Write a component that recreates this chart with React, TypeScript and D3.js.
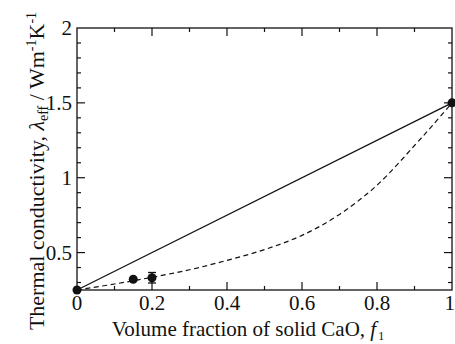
import React from "react";
import * as d3 from "d3";

// Measured points: volume fraction of solid CaO vs effective thermal conductivity
const measF = [0, 0.15, 0.2, 1];
const measLambda = [0.25, 0.322, 0.332, 1.5];
const measErr = [0, 0, 0.035, 0];

// Parallel (upper bound) model
const parallelF = [0, 1];
const parallelLambda = [0.25, 1.5];

// Lower model curve
const modelF = [0, 0.1, 0.2, 0.3, 0.4, 0.5, 0.6, 0.7, 0.8, 0.9, 0.95, 1];
const modelLambda = [0.25, 0.29, 0.335, 0.385, 0.448, 0.52, 0.615, 0.755, 0.95, 1.215, 1.355, 1.5];

const xTickLabels = [0, 0.2, 0.4, 0.6, 0.8, 1];
const yTickLabels = [0.5, 1, 1.5, 2];

const W = 455;
const H = 344;
const M = { left: 77, right: 452, top: 28, bottom: 290 };
const FONT = "'Liberation Serif', 'Times New Roman', serif";
const INK = "#111";

export default function App() {
  const x = d3.scaleLinear().domain([0, 1]).range([M.left, M.right]);
  const y = d3.scaleLinear().domain([0.25, 2]).range([M.bottom, M.top]);

  const xMinor = d3.range(1, 10).map((i) => i / 10);
  const yMinor = d3.range(3, 20).map((i) => i / 10);

  const line = d3
    .line<[number, number]>()
    .x((d) => x(d[0]))
    .y((d) => y(d[1]));
  const curve = d3
    .line<[number, number]>()
    .x((d) => x(d[0]))
    .y((d) => y(d[1]))
    .curve(d3.curveCatmullRom.alpha(0.5));

  const parallelPath = line(parallelF.map((f, i) => [f, parallelLambda[i]]));
  const modelPath = curve(modelF.map((f, i) => [f, modelLambda[i]]));

  const isMajorX = (v: number) => Math.abs(v * 5 - Math.round(v * 5)) < 1e-6;
  const isMajorY = (v: number) => Math.abs(v * 2 - Math.round(v * 2)) < 1e-6;

  const major = 8;
  const minor = 4;

  return (
    <svg
      width={W}
      height={H}
      style={{ position: "absolute", left: 0, top: 0, background: "#fff" }}
      fontFamily={FONT}
    >
      <rect x={0} y={0} width={W} height={H} fill="#fff" />

      {/* lines */}
      <path d={parallelPath ?? ""} fill="none" stroke={INK} strokeWidth={1.2} />
      <path
        d={modelPath ?? ""}
        fill="none"
        stroke={INK}
        strokeWidth={1.2}
        strokeDasharray="5,3.5"
      />

      {/* frame */}
      <rect
        x={M.left}
        y={M.top}
        width={M.right - M.left}
        height={M.bottom - M.top}
        fill="none"
        stroke={INK}
        strokeWidth={1.3}
      />

      {/* x ticks, bottom and top, pointing inward */}
      {xMinor.map((v) => {
        const len = isMajorX(v) ? major : minor;
        return (
          <g key={"xt" + v} stroke={INK} strokeWidth={1.2}>
            <line x1={x(v)} x2={x(v)} y1={M.bottom} y2={M.bottom - len} />
            <line x1={x(v)} x2={x(v)} y1={M.top} y2={M.top + len} />
          </g>
        );
      })}

      {/* y ticks, left and right, pointing inward */}
      {yMinor.map((v) => {
        const len = isMajorY(v) ? major : minor;
        return (
          <g key={"yt" + v} stroke={INK} strokeWidth={1.2}>
            <line x1={M.left} x2={M.left + len} y1={y(v)} y2={y(v)} />
            <line x1={M.right} x2={M.right - len} y1={y(v)} y2={y(v)} />
          </g>
        );
      })}

      {/* tick labels */}
      {xTickLabels.map((v, i) => {
        const last = i === xTickLabels.length - 1;
        return (
          <text
            key={"xl" + v}
            x={last ? W : x(v)}
            y={310}
            fontSize={21}
            textAnchor={last ? "end" : "middle"}
            fill={INK}
          >
            {String(v)}
          </text>
        );
      })}
      {yTickLabels.map((v) => (
        <text
          key={"yl" + v}
          x={72}
          y={y(v) + 7}
          fontSize={21}
          textAnchor="end"
          fill={INK}
        >
          {String(v)}
        </text>
      ))}

      {/* measured points with error bars */}
      {measF.map((f, i) => {
        const cx = x(f);
        const cy = y(measLambda[i]);
        const e = measErr[i];
        return (
          <g key={"pt" + i}>
            {e > 0 && (
              <g stroke={INK} strokeWidth={1.3}>
                <line x1={cx} x2={cx} y1={y(measLambda[i] + e)} y2={y(measLambda[i] - e)} />
                <line x1={cx - 4} x2={cx + 4} y1={y(measLambda[i] + e)} y2={y(measLambda[i] + e)} />
                <line x1={cx - 4} x2={cx + 4} y1={y(measLambda[i] - e)} y2={y(measLambda[i] - e)} />
              </g>
            )}
            <circle cx={cx} cy={cy} r={4.5} fill={INK} />
          </g>
        );
      })}

      {/* axis titles */}
      <text x={248} y={336} fontSize={21} textAnchor="middle" fill={INK}>
        Volume fraction of solid CaO,{" "}
        <tspan fontStyle="italic">f</tspan>
        <tspan fontSize={12} dy={4} dx={2}>1</tspan>
      </text>

      <text
        transform={`translate(44, 171) rotate(-90)`}
        fontSize={22}
        textAnchor="middle"
        fill={INK}
      >
        Thermal conductivity,{" "}
        <tspan fontStyle="italic">λ</tspan>
        <tspan fontSize={14} dy={4}>eff</tspan>
        <tspan dy={-4}> / Wm</tspan>
        <tspan fontSize={14} dy={-8}>-1</tspan>
        <tspan dy={8}>K</tspan>
        <tspan fontSize={14} dy={-8}>-1</tspan>
      </text>
    </svg>
  );
}
